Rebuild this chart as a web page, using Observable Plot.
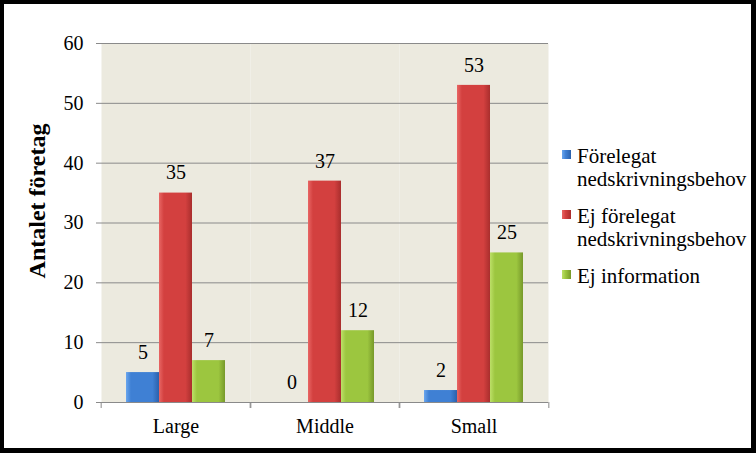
<!DOCTYPE html>
<html><head><meta charset="utf-8">
<script src="https://cdn.jsdelivr.net/npm/d3@7"></script>
<script src="https://cdn.jsdelivr.net/npm/@observablehq/plot@0.6"></script>
<style>
body{margin:0;background:#fff;}
#wrap{position:relative;width:756px;height:453px;overflow:hidden;font-family:"Liberation Serif","Times New Roman",serif;background:#fff;}
#border{position:absolute;left:0;top:0;width:756px;height:453px;box-sizing:border-box;border:4px solid #000;border-right-width:5px;border-bottom-width:5px;pointer-events:none;}
#chart{position:absolute;left:0;top:0;}
#legend{position:absolute;left:562px;top:145px;font-size:21px;line-height:23px;color:#000;}
.item{position:relative;padding-left:15px;margin-bottom:14px;}
.sw{position:absolute;left:0;top:5px;width:9px;height:9px;}
#chart svg text{font-family:"Liberation Serif","Times New Roman",serif;}
</style>
</head><body>
<div id="wrap"><div id="chart"></div><div id="legend"></div><div id="border"></div></div>
<script>
const categories = ["Large", "Middle", "Small"];
const series = ["Förelegat nedskrivningsbehov", "Ej förelegat nedskrivningsbehov", "Ej information"];
const legendLines = [["Förelegat", "nedskrivningsbehov"], ["Ej förelegat", "nedskrivningsbehov"], ["Ej information"]];
const forelegat = [5, 0, 2];
const ejForelegat = [35, 37, 53];
const ejInformation = [7, 12, 25];
const yTicks = [0, 10, 20, 30, 40, 50, 60];
const yLabel = "Antalet företag";

const gradients = [
  ["#6aa6ee", "#3f80d4", "#2b61ab"],
  ["#e86664", "#d3403f", "#a92e2d"],
  ["#bde068", "#9cc63f", "#77992a"]
];

const valuesBySeries = [forelegat, ejForelegat, ejInformation];
const rows = categories.flatMap((c, i) => series.map((s, j) => ({cat: c, series: s, value: valuesBySeries[j][i]})));

const svg = Plot.plot({
  width: 560, height: 453,
  marginLeft: 100, marginRight: 11, marginTop: 43, marginBottom: 51,
  style: {fontFamily: "Liberation Serif, Times New Roman, serif", fontSize: "20px", color: "#000", background: "transparent", overflow: "visible"},
  fx: {domain: categories, padding: 0, label: null},
  x: {domain: series, paddingInner: 0, paddingOuter: 0.706, axis: null},
  y: {domain: [0, 60], label: null},
  color: {domain: series, range: series.map((s, i) => `url(#g${i})`)},
  marks: [
    Plot.frame({fill: "#eceadf", stroke: null}),
    Plot.gridY(yTicks, {stroke: "#8a8a8a", strokeOpacity: 1}),
    Plot.barY(rows, {fx: "cat", x: "series", y: "value", fill: "series"}),
    Plot.ruleY([0], {stroke: "#8a8a8a"}),
    Plot.text(rows, {fx: "cat", x: "series", y: "value", text: "value", dy: -20, fontSize: 20}),
    Plot.axisY(yTicks, {tickSize: 5, tickPadding: 13, stroke: "#8a8a8a", line: true, label: null, fontSize: 20}),
    Plot.text([yLabel], {fx: [categories[0]], text: d => d, frameAnchor: "left", textAnchor: "middle", lineAnchor: "middle", rotate: -90, dx: -64, dy: -22, fontSize: 24, fontWeight: "bold", letterSpacing: "0.3px"}),
    Plot.axisFx({anchor: "bottom", tickSize: 0, tickPadding: 16, label: null, fontSize: 20}),
    Plot.axisFx({anchor: "bottom", tickSize: 6, tickFormat: () => "", dx: -74.83, stroke: "#8a8a8a", label: null}),
    Plot.axisFx({anchor: "bottom", tickSize: 6, tickFormat: () => "", dx: 74.83, stroke: "#8a8a8a", label: null})
  ]
});

const defs = d3.select(svg).insert("defs", ":first-child");
gradients.forEach((g, i) => {
  const lg = defs.append("linearGradient").attr("id", `g${i}`).attr("x1", 0).attr("x2", 1).attr("y1", 0).attr("y2", 0);
  lg.append("stop").attr("offset", "0").attr("stop-color", g[0]);
  lg.append("stop").attr("offset", "0.15").attr("stop-color", g[1]);
  lg.append("stop").attr("offset", "0.8").attr("stop-color", g[1]);
  lg.append("stop").attr("offset", "1").attr("stop-color", g[2]);
});
document.getElementById("chart").appendChild(svg);

const legend = d3.select("#legend");
series.forEach((s, i) => {
  const item = legend.append("div").attr("class", "item");
  item.append("span").attr("class", "sw")
    .style("background", `linear-gradient(to right, ${gradients[i][0]}, ${gradients[i][1]} 40%, ${gradients[i][2]})`);
  item.append("div").html(legendLines[i].join("<br>"));
});
</script>
</body></html>
